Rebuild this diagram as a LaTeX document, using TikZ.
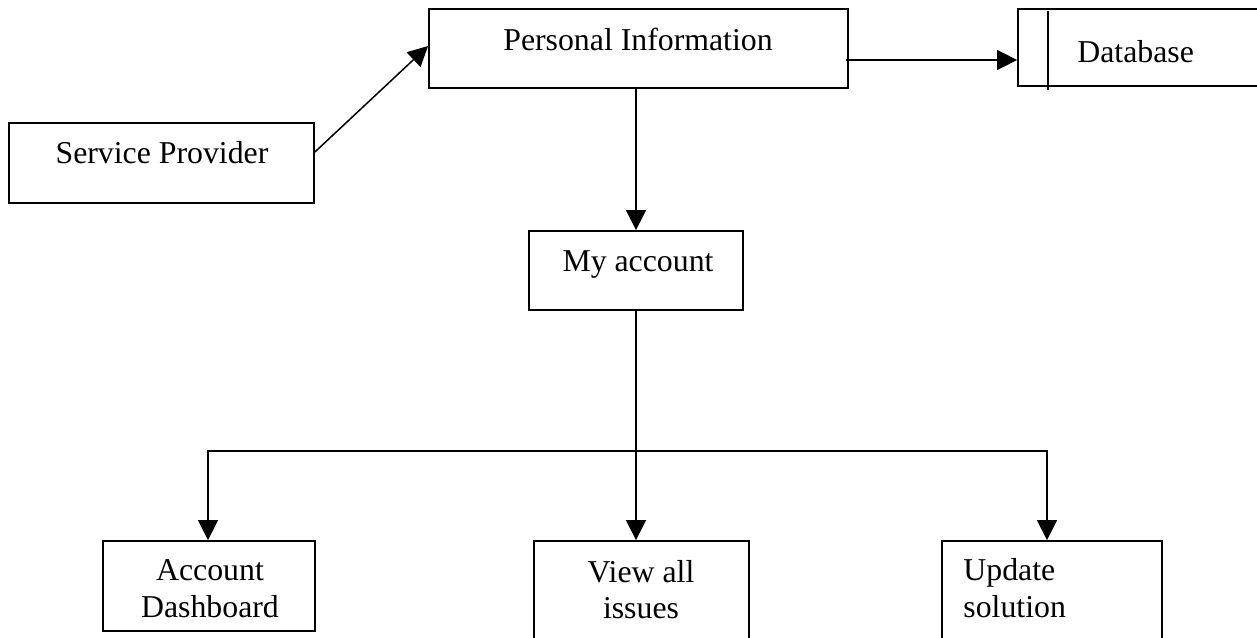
\documentclass[tikz,border=0pt]{standalone}
\usepackage{fontspec}
\setmainfont{Liberation Serif}
\usetikzlibrary{arrows.meta,calc}
\begin{document}
\begin{tikzpicture}[x=0.5pt,y=-0.5pt,
  box/.style={draw,line width=0.9pt,rectangle,inner sep=0pt},
  lbl/.style={inner sep=0pt,font=\fontsize{15.9}{18.5}\selectfont},
  link/.style={line width=0.75pt},
  arr/.style={link,-{Triangle[length=10pt,width=10pt]}}]
\useasboundingbox (0,0) rectangle (1257,637);

% boxes
\node[box,minimum width=209.5pt,minimum height=39.5pt] (pi) at (638.5,48.5) {};
\node[box,minimum width=191pt,minimum height=38.5pt] (db) at (1209,47.5) {};
\node[box,minimum width=152.5pt,minimum height=40pt] (sp) at (161.5,163) {};
\node[box,minimum width=107pt,minimum height=39.5pt] (ma) at (636,270.5) {};
\node[box,minimum width=106pt,minimum height=45pt] (ad) at (209,586) {};
\node[box,minimum width=107.5pt,minimum height=69.5pt] (vi) at (641.5,610.5) {};
\node[box,minimum width=110pt,minimum height=69.5pt] (up) at (1052,610.5) {};

% data store divider
\draw[line width=0.9pt] ([xshift=15.5pt,yshift=-1.5pt]db.north west) -- ([xshift=15.5pt,yshift=-1.5pt]db.south west);

% labels
\node[lbl,anchor=base] (pi-t) at (638,50) {Personal Information};
\node[lbl,anchor=base west] (db-t) at (1077,62) {Database};
\node[lbl,anchor=base] (sp-t) at (162,163) {Service Provider};
\node[lbl,anchor=base] (ma-t) at (638,271) {My account};
\node[lbl,anchor=base] (ad-t1) at (210,580) {Account};
\node[lbl,anchor=base] (ad-t2) at (210,617) {Dashboard};
\node[lbl,anchor=base] (vi-t1) at (641,582) {View all};
\node[lbl,anchor=base] (vi-t2) at (641,618) {issues};
\node[lbl,anchor=base west] (up-t1) at (963,580) {Update};
\node[lbl,anchor=base west] (up-t2) at (963,617) {solution};

% connectors
\draw[arr] ([yshift=5.5pt]sp.east) -- ([yshift=1.25pt]pi.west);
\draw[arr] ([xshift=-1.5pt,yshift=-5.75pt]pi.east) coordinate (pd) -- (pd -| db.west);
\draw[arr] (pi.south -| ma.north) -- (ma.north);
\coordinate (bus) at (636,451);
\draw[arr] (ma.south) -- (ma.south |- vi.north);
\draw[arr] (bus) -| ([xshift=-0.5pt]ad.north);
\draw[arr] (bus) -| ([xshift=-2.5pt]up.north);
\end{tikzpicture}
\end{document}
